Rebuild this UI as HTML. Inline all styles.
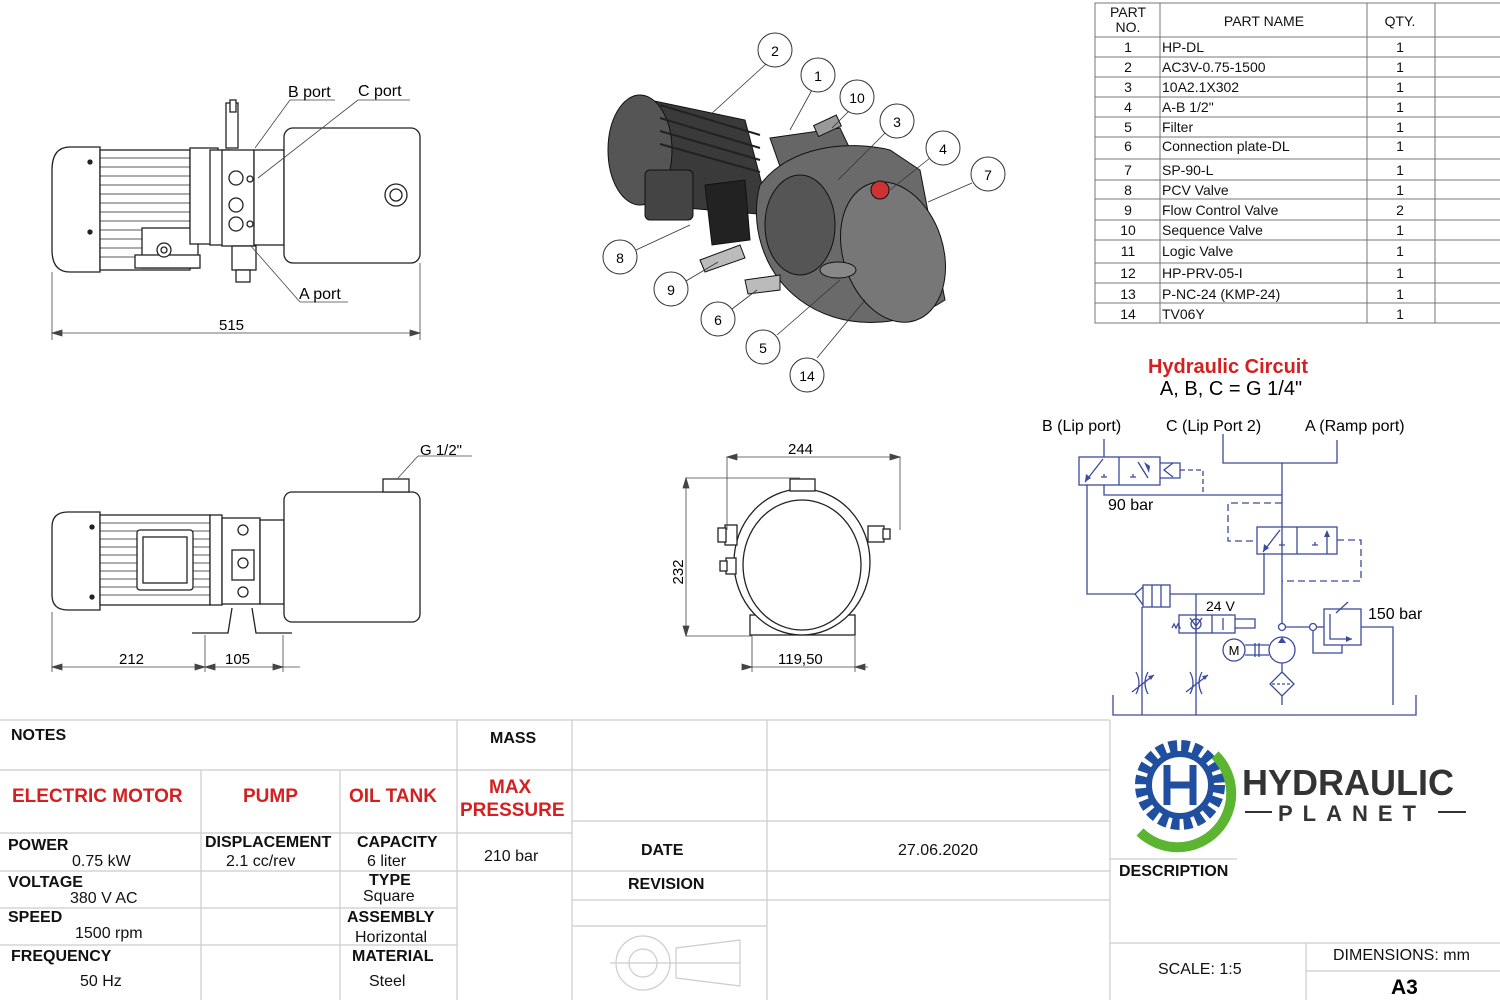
<!DOCTYPE html>
<html><head><meta charset="utf-8"><style>
html,body{margin:0;padding:0;background:#fff}
svg{display:block}
text{font-family:"Liberation Sans",sans-serif}
.g{font-family:"DejaVu Sans",sans-serif;font-size:14px}
.b{font-weight:bold}
</style></head><body>
<svg width="1500" height="1000" viewBox="0 0 1500 1000" xmlns="http://www.w3.org/2000/svg">
<rect width="1500" height="1000" fill="#fff"/>

<!-- ===== Drawing 1 (top-left) ===== -->
<g stroke="#222" stroke-width="1.3" fill="#fff">
 <path d="M70 147 H100 V272 H70 Q52 272 52 250 V170 Q52 147 70 147Z"/>
 <rect x="100" y="150" width="90" height="120"/>
 <g stroke-width="0.8">
  <line x1="100" y1="158" x2="190" y2="158"/><line x1="100" y1="167" x2="190" y2="167"/>
  <line x1="100" y1="176" x2="190" y2="176"/><line x1="100" y1="185" x2="190" y2="185"/>
  <line x1="100" y1="194" x2="190" y2="194"/><line x1="100" y1="203" x2="190" y2="203"/>
  <line x1="100" y1="212" x2="190" y2="212"/><line x1="100" y1="221" x2="190" y2="221"/>
  <line x1="100" y1="230" x2="190" y2="230"/><line x1="100" y1="239" x2="190" y2="239"/>
  <line x1="100" y1="248" x2="190" y2="248"/><line x1="100" y1="257" x2="190" y2="257"/>
 </g>
 <circle cx="90" cy="162" r="2" fill="#222"/><circle cx="90" cy="232" r="2" fill="#222"/>
 <rect x="142" y="228" width="56" height="40"/>
 <rect x="135" y="255" width="65" height="13"/>
 <circle cx="164" cy="250" r="7"/><circle cx="164" cy="250" r="3"/>
 <rect x="190" y="148" width="28" height="96"/>
 <rect x="210" y="150" width="20" height="95"/>
 <rect x="222" y="150" width="32" height="96"/>
 <rect x="226" y="103" width="12" height="45"/>
 <rect x="230" y="100" width="6" height="12"/>
 <circle cx="236" cy="178" r="7"/><circle cx="236" cy="205" r="7"/><circle cx="236" cy="224" r="7"/>
 <circle cx="250" cy="179" r="3"/><circle cx="250" cy="224" r="3"/>
 <rect x="254" y="150" width="30" height="95"/>
 <rect x="232" y="246" width="24" height="24"/>
 <rect x="236" y="270" width="14" height="12"/>
 <rect x="284" y="128" width="136" height="135" rx="9"/>
 <circle cx="396" cy="195" r="11"/><circle cx="396" cy="195" r="6"/>
</g>
<g stroke="#444" stroke-width="0.8" fill="none">
 <line x1="255" y1="148" x2="290" y2="100"/><line x1="290" y1="100" x2="335" y2="100"/>
 <line x1="258" y1="178" x2="358" y2="100"/><line x1="358" y1="100" x2="410" y2="100"/>
 <line x1="250" y1="245" x2="300" y2="302"/><line x1="300" y1="302" x2="348" y2="302"/>
 <line x1="52" y1="272" x2="52" y2="340"/><line x1="420" y1="263" x2="420" y2="340"/>
 <line x1="52" y1="333" x2="420" y2="333"/>
 <path d="M52 333 l10 -3 v6z M420 333 l-10 -3 v6z" fill="#444"/>
</g>
<text x="288" y="97" font-size="16">B port</text>
<text x="358" y="96" font-size="16">C port</text>
<text x="299" y="299" font-size="16">A port</text>
<text x="219" y="330" font-size="15">515</text>

<!-- ===== Drawing 2 (bottom-left) ===== -->
<g stroke="#222" stroke-width="1.3" fill="#fff">
 <path d="M68 512 H100 V610 H68 Q52 610 52 595 V527 Q52 512 68 512Z"/>
 <rect x="100" y="515" width="110" height="90"/>
 <g stroke-width="0.8">
  <line x1="100" y1="523" x2="210" y2="523"/><line x1="100" y1="531" x2="210" y2="531"/>
  <line x1="100" y1="539" x2="210" y2="539"/><line x1="100" y1="547" x2="210" y2="547"/>
  <line x1="100" y1="555" x2="210" y2="555"/><line x1="100" y1="563" x2="210" y2="563"/>
  <line x1="100" y1="571" x2="210" y2="571"/><line x1="100" y1="579" x2="210" y2="579"/>
  <line x1="100" y1="587" x2="210" y2="587"/><line x1="100" y1="595" x2="210" y2="595"/>
 </g>
 <rect x="137" y="530" width="56" height="60" rx="3"/>
 <rect x="143" y="537" width="44" height="46"/>
 <circle cx="92" cy="527" r="2" fill="#222"/><circle cx="92" cy="597" r="2" fill="#222"/>
 <rect x="210" y="515" width="12" height="90"/>
 <rect x="222" y="518" width="38" height="86"/>
 <rect x="232" y="550" width="22" height="30"/><circle cx="243" cy="563" r="5"/>
 <circle cx="243" cy="530" r="5"/><circle cx="243" cy="592" r="5"/>
 <rect x="260" y="520" width="24" height="84"/>
 <rect x="284" y="492" width="136" height="130" rx="8"/>
 <rect x="383" y="479" width="26" height="13"/>
 <path d="M192 633 H228 L232 608 M292 633 H256 L252 608" fill="none"/>
</g>
<g stroke="#444" stroke-width="0.8" fill="none">
 <line x1="398" y1="478" x2="418" y2="456"/><line x1="418" y1="456" x2="472" y2="456"/>
 <line x1="52" y1="612" x2="52" y2="672"/><line x1="205" y1="635" x2="205" y2="672"/><line x1="283" y1="635" x2="283" y2="672"/>
 <line x1="52" y1="667" x2="300" y2="667"/>
 <path d="M52 667 l10 -3 v6z M205 667 l-10 -3 v6z M205 667 l10 -3 v6z M283 667 l-10 -3 v6z" fill="#444"/>
</g>
<text x="420" y="455" font-size="15">G 1/2"</text>
<text x="119" y="664" font-size="15">212</text>
<text x="225" y="664" font-size="15">105</text>

<!-- ===== Drawing 3 (end view) ===== -->
<g stroke="#222" stroke-width="1.3" fill="#fff">
 <rect x="750" y="615" width="105" height="20"/>
 <ellipse cx="802" cy="562" rx="68" ry="73"/>
 <ellipse cx="802" cy="565" rx="59" ry="65"/>
 <rect x="790" y="479" width="25" height="12"/>
 <rect x="725" y="525" width="12" height="20"/><rect x="718" y="528" width="8" height="14"/>
 <rect x="726" y="558" width="10" height="16"/><rect x="720" y="561" width="7" height="10"/>
 <rect x="868" y="526" width="16" height="16"/><rect x="883" y="529" width="7" height="10"/>
</g>
<g stroke="#444" stroke-width="0.8" fill="none">
 <line x1="727" y1="457" x2="727" y2="530"/><line x1="900" y1="457" x2="900" y2="530"/>
 <line x1="727" y1="457" x2="900" y2="457"/>
 <line x1="686" y1="478" x2="800" y2="478"/><line x1="686" y1="636" x2="752" y2="636"/>
 <line x1="686" y1="478" x2="686" y2="636"/>
 <line x1="752" y1="636" x2="752" y2="672"/><line x1="855" y1="636" x2="855" y2="672"/>
 <line x1="742" y1="667" x2="868" y2="667"/>
 <path d="M727 457 l10 -3 v6z M900 457 l-10 -3 v6z M686 478 l-3 10 h6z M686 636 l-3 -10 h6z M752 667 l-10 -3 v6z M855 667 l10 -3 v6z" fill="#444"/>
</g>
<text x="788" y="454" font-size="15">244</text>
<text x="683" y="572" font-size="15" transform="rotate(-90 683 572)" text-anchor="middle">232</text>
<text x="778" y="664" font-size="15">119,50</text>

<!-- ===== 3D view ===== -->
<g stroke="#111" stroke-width="1">
 <path d="M640 98 L745 120 L770 215 L650 205Z" fill="#3a3a3a"/>
 <ellipse cx="640" cy="150" rx="32" ry="55" fill="#555"/>
 <g stroke="#222" stroke-width="2"><line x1="660" y1="105" x2="760" y2="135"/><line x1="660" y1="118" x2="760" y2="148"/><line x1="660" y1="131" x2="760" y2="160"/><line x1="660" y1="144" x2="760" y2="172"/></g>
 <rect x="645" y="170" width="48" height="50" rx="5" fill="#444"/>
 <path d="M705 185 L745 180 L750 240 L712 245Z" fill="#222"/>
 <path d="M770 138 L840 128 L860 170 L790 195Z" fill="#666"/>
 <rect x="815" y="120" width="25" height="12" fill="#999" transform="rotate(-25 827 126)"/>
 <path d="M760 185 C790 145 850 140 890 150 L920 170 L945 300 C900 330 840 330 800 300 C760 270 750 220 760 185Z" fill="#6a6a6a"/>
 <ellipse cx="893" cy="252" rx="50" ry="72" fill="#777" transform="rotate(-18 893 252)"/>
 <ellipse cx="800" cy="225" rx="35" ry="50" fill="#555"/>
 <circle cx="880" cy="190" r="9" fill="#c33"/>
 <ellipse cx="838" cy="270" rx="18" ry="8" fill="#888"/>
 <path d="M700 260 L740 245 L745 258 L705 272Z M745 280 L780 275 L780 290 L748 294Z" fill="#bbb"/>
</g>
<g stroke="#333" stroke-width="0.8" fill="none">
 <line x1="766" y1="64" x2="710" y2="115"/><line x1="812" y1="90" x2="790" y2="130"/>
 <line x1="848" y1="112" x2="832" y2="128"/><line x1="886" y1="132" x2="838" y2="180"/>
 <line x1="930" y1="158" x2="890" y2="190"/><line x1="972" y1="183" x2="928" y2="202"/>
 <line x1="636" y1="250" x2="690" y2="225"/><line x1="686" y1="281" x2="718" y2="262"/>
 <line x1="732" y1="309" x2="757" y2="290"/><line x1="777" y1="335" x2="840" y2="280"/>
 <line x1="817" y1="358" x2="865" y2="300"/>
</g>
<g stroke="#333" stroke-width="1" fill="#fff">
 <circle cx="775" cy="50" r="17"/><circle cx="818" cy="75" r="17"/><circle cx="857" cy="97" r="17"/>
 <circle cx="897" cy="121" r="17"/><circle cx="943" cy="148" r="17"/><circle cx="988" cy="174" r="17"/>
 <circle cx="620" cy="257" r="17"/><circle cx="671" cy="289" r="17"/><circle cx="718" cy="319" r="17"/>
 <circle cx="763" cy="347" r="17"/><circle cx="807" cy="375" r="17"/>
</g>
<g class="g" text-anchor="middle" font-size="15">
 <text x="775" y="56">2</text><text x="818" y="81">1</text><text x="857" y="103">10</text>
 <text x="897" y="127">3</text><text x="943" y="154">4</text><text x="988" y="180">7</text>
 <text x="620" y="263">8</text><text x="671" y="295">9</text><text x="718" y="325">6</text>
 <text x="763" y="353">5</text><text x="807" y="381">14</text>
</g>

<!-- ===== Parts table ===== -->
<g stroke="#777" stroke-width="1" fill="none">
 <rect x="1095" y="3" width="410" height="320"/>
 <line x1="1160" y1="3" x2="1160" y2="323"/><line x1="1367" y1="3" x2="1367" y2="323"/><line x1="1435" y1="3" x2="1435" y2="323"/>
 <line x1="1095" y1="37" x2="1500" y2="37"/><line x1="1095" y1="57" x2="1500" y2="57"/><line x1="1095" y1="77" x2="1500" y2="77"/>
 <line x1="1095" y1="97" x2="1500" y2="97"/><line x1="1095" y1="117" x2="1500" y2="117"/><line x1="1095" y1="137" x2="1500" y2="137"/>
 <line x1="1095" y1="159" x2="1500" y2="159"/><line x1="1095" y1="180" x2="1500" y2="180"/><line x1="1095" y1="199" x2="1500" y2="199"/>
 <line x1="1095" y1="220" x2="1500" y2="220"/><line x1="1095" y1="240" x2="1500" y2="240"/><line x1="1095" y1="263" x2="1500" y2="263"/>
 <line x1="1095" y1="283" x2="1500" y2="283"/><line x1="1095" y1="303" x2="1500" y2="303"/>
</g>
<g class="g" fill="#111">
 <text x="1128" y="17" text-anchor="middle">PART</text><text x="1128" y="32" text-anchor="middle">NO.</text>
 <text x="1264" y="26" text-anchor="middle">PART NAME</text><text x="1400" y="26" text-anchor="middle">QTY.</text>
 <g text-anchor="middle">
 <text x="1128" y="52">1</text><text x="1128" y="72">2</text><text x="1128" y="92">3</text><text x="1128" y="112">4</text>
 <text x="1128" y="132">5</text><text x="1128" y="151">6</text><text x="1128" y="175">7</text><text x="1128" y="195">8</text>
 <text x="1128" y="215">9</text><text x="1128" y="235">10</text><text x="1128" y="256">11</text><text x="1128" y="278">12</text>
 <text x="1128" y="299">13</text><text x="1128" y="319">14</text>
 <text x="1400" y="52">1</text><text x="1400" y="72">1</text><text x="1400" y="92">1</text><text x="1400" y="112">1</text>
 <text x="1400" y="132">1</text><text x="1400" y="151">1</text><text x="1400" y="175">1</text><text x="1400" y="195">1</text>
 <text x="1400" y="215">2</text><text x="1400" y="235">1</text><text x="1400" y="256">1</text><text x="1400" y="278">1</text>
 <text x="1400" y="299">1</text><text x="1400" y="319">1</text>
 </g>
 <text x="1162" y="52">HP-DL</text><text x="1162" y="72">AC3V-0.75-1500</text><text x="1162" y="92">10A2.1X302</text>
 <text x="1162" y="112">A-B 1/2"</text><text x="1162" y="132">Filter</text><text x="1162" y="151">Connection plate-DL</text>
 <text x="1162" y="175">SP-90-L</text><text x="1162" y="195">PCV Valve</text><text x="1162" y="215">Flow Control Valve</text>
 <text x="1162" y="235">Sequence Valve</text><text x="1162" y="256">Logic Valve</text><text x="1162" y="278">HP-PRV-05-I</text>
 <text x="1162" y="299">P-NC-24 (KMP-24)</text><text x="1162" y="319">TV06Y</text>
</g>

<!-- ===== Hydraulic circuit ===== -->
<text x="1228" y="373" font-size="20" font-weight="bold" fill="#d42020" text-anchor="middle">Hydraulic Circuit</text>
<text x="1231" y="395" font-size="20" text-anchor="middle">A, B, C = G 1/4"</text>
<text x="1042" y="431" font-size="16">B (Lip port)</text>
<text x="1166" y="431" font-size="16">C (Lip Port 2)</text>
<text x="1305" y="431" font-size="16">A (Ramp port)</text>
<g stroke="#3b4a9c" stroke-width="1.3" fill="none">
 <line x1="1104" y1="439" x2="1104" y2="457"/>
 <path d="M1223 434 V463 H1337 V440"/>
 <line x1="1282" y1="463" x2="1282" y2="627"/>
 <rect x="1079" y="457" width="81" height="28"/><line x1="1119" y1="457" x2="1119" y2="485"/>
 <path d="M1160 463 H1180 V478 H1160"/><path d="M1173 463 L1164 470 L1173 477"/>
 <path d="M1180 470 H1203 V495" stroke-dasharray="5,3"/>
 <line x1="1085" y1="482" x2="1103" y2="459"/><path d="M1101 477 h6 M1104 477 v-3 M1130 477 h6 M1133 477 v-3"/>
 <line x1="1138" y1="462" x2="1148" y2="478"/>
 <path d="M1104 485 V495 H1282"/>
 <path d="M1087 485 V594 H1135"/>
 <rect x="1143" y="585" width="27" height="22"/><line x1="1152" y1="585" x2="1152" y2="607"/><line x1="1161" y1="585" x2="1161" y2="607"/>
 <path d="M1143 587 L1135 594 L1143 605"/>
 <path d="M1170 594 H1264 V553"/>
 <rect x="1257" y="527" width="80" height="27"/><line x1="1297" y1="527" x2="1297" y2="554"/>
 <line x1="1263" y1="552" x2="1280" y2="530"/><path d="M1279 545 h6 M1282 545 v-3 M1312 545 h6 M1315 545 v-3"/>
 <line x1="1327" y1="554" x2="1327" y2="532"/>
 <path d="M1282 503 H1228 V541 H1257" stroke-dasharray="7,4"/>
 <path d="M1337 540 H1361 V581 H1282" stroke-dasharray="7,4"/>
 <line x1="1142" y1="607" x2="1142" y2="715"/>
 <line x1="1196" y1="594" x2="1196" y2="715"/>
 <rect x="1179" y="615" width="56" height="18"/><line x1="1212" y1="615" x2="1212" y2="633"/><line x1="1196" y1="615" x2="1196" y2="633"/>
 <circle cx="1196" cy="624" r="5"/><path d="M1190 618 L1196 626 L1202 618"/>
 <line x1="1223" y1="618" x2="1223" y2="630"/>
 <path d="M1235 619 H1255 V628 H1235"/>
 <path d="M1172 628 l2 -4 l2 4 l2 -4 l2 4 H1179"/>
 <circle cx="1282" cy="627" r="3.5" fill="#fff"/>
 <line x1="1285" y1="627" x2="1310" y2="627"/>
 <circle cx="1313" cy="627" r="3.5" fill="#fff"/>
 <path d="M1313 631 V653 H1342 V645"/><line x1="1316" y1="627" x2="1324" y2="627"/>
 <rect x="1324" y="609" width="37" height="36"/>
 <path d="M1330 614 V639 H1352"/>
 <line x1="1336" y1="613" x2="1348" y2="602"/>
 <path d="M1361 627 H1393 V705"/>
 <circle cx="1282" cy="650" r="13"/>
 <line x1="1282" y1="663" x2="1282" y2="672"/>
 <circle cx="1234" cy="650" r="11"/>
 <path d="M1245 645 H1269 M1245 655 H1269 M1255 643 V657 M1259 643 V657"/>
 <path d="M1282 672 L1294 684 L1282 696 L1270 684Z"/><line x1="1272" y1="684" x2="1292" y2="684" stroke-dasharray="3,2"/>
 <line x1="1282" y1="696" x2="1282" y2="705"/>
 <path d="M1113 695 V715 H1416 V695"/>
 <path d="M1136 672 Q1142 683 1136 694 M1148 672 Q1142 683 1148 694"/><line x1="1132" y1="692" x2="1154" y2="675"/>
 <path d="M1190 672 Q1196 683 1190 694 M1202 672 Q1196 683 1202 694"/><line x1="1186" y1="692" x2="1208" y2="675"/>
</g>
<g fill="#3b4a9c">
 <path d="M1085 482 l1 -8 l5 4z"/><path d="M1148 478 l-6 -4 l1 -7z" transform="rotate(180 1146 470)"/>
 <path d="M1263 552 l1 -8 l5 4z"/><path d="M1327 530 l-3 7 h6z"/>
 <path d="M1282 637 l-4 6 h8z"/><path d="M1352 639 l-6 -3 v6z"/>
 <path d="M1154 675 l-6 1 l3 4z"/><path d="M1208 675 l-6 1 l3 4z"/>
</g>
<text x="1108" y="510" font-size="16">90 bar</text>
<text x="1206" y="611" font-size="14">24 V</text>
<text x="1368" y="619" font-size="16">150 bar</text>
<text x="1234" y="655" font-size="13" text-anchor="middle">M</text>

<!-- ===== Bottom title block ===== -->
<g stroke="#ccc" stroke-width="1.2" fill="none">
 <line x1="0" y1="720" x2="1110" y2="720"/>
 <line x1="0" y1="770" x2="1110" y2="770"/>
 <line x1="0" y1="833" x2="572" y2="833"/>
 <line x1="572" y1="821" x2="1110" y2="821"/>
 <line x1="0" y1="871" x2="1110" y2="871"/>
 <line x1="0" y1="908" x2="457" y2="908"/>
 <line x1="0" y1="945" x2="457" y2="945"/>
 <line x1="572" y1="900" x2="1110" y2="900"/>
 <line x1="572" y1="926" x2="767" y2="926"/>
 <line x1="201" y1="770" x2="201" y2="1000"/>
 <line x1="340" y1="770" x2="340" y2="1000"/>
 <line x1="457" y1="720" x2="457" y2="1000"/>
 <line x1="572" y1="720" x2="572" y2="1000"/>
 <line x1="767" y1="720" x2="767" y2="1000"/>
 <line x1="1110" y1="720" x2="1110" y2="1000"/>
 <line x1="1110" y1="859" x2="1237" y2="859"/>
 <line x1="1110" y1="943" x2="1500" y2="943"/>
 <line x1="1306" y1="943" x2="1306" y2="1000"/>
 <line x1="1306" y1="971" x2="1500" y2="971"/>
 <circle cx="643" cy="963" r="27"/><circle cx="643" cy="963" r="14"/>
 <path d="M676 948 L740 940 M676 978 L740 986 M740 940 V986 M676 948 V978 M610 963 H740"/>
</g>
<g font-weight="bold" font-size="16" fill="#111">
 <text x="11" y="740">NOTES</text>
 <text x="490" y="743">MASS</text>
 <text x="8" y="850">POWER</text>
 <text x="205" y="847">DISPLACEMENT</text>
 <text x="357" y="847">CAPACITY</text>
 <text x="8" y="887">VOLTAGE</text>
 <text x="369" y="885">TYPE</text>
 <text x="8" y="922">SPEED</text>
 <text x="347" y="922">ASSEMBLY</text>
 <text x="11" y="961">FREQUENCY</text>
 <text x="352" y="961">MATERIAL</text>
 <text x="641" y="855">DATE</text>
 <text x="628" y="889">REVISION</text>
 <text x="1119" y="876">DESCRIPTION</text>
</g>
<g font-weight="bold" font-size="19" fill="#d42020">
 <text x="12" y="802">ELECTRIC MOTOR</text>
 <text x="243" y="802">PUMP</text>
 <text x="349" y="802">OIL TANK</text>
 <text x="489" y="793">MAX</text>
 <text x="460" y="816">PRESSURE</text>
</g>
<g font-size="16" fill="#111">
 <text x="72" y="866">0.75 kW</text>
 <text x="226" y="866">2.1 cc/rev</text>
 <text x="367" y="866">6 liter</text>
 <text x="484" y="861">210 bar</text>
 <text x="70" y="903">380 V AC</text>
 <text x="363" y="901">Square</text>
 <text x="75" y="938">1500 rpm</text>
 <text x="355" y="942">Horizontal</text>
 <text x="80" y="986">50 Hz</text>
 <text x="369" y="986">Steel</text>
 <text x="898" y="855">27.06.2020</text>
 <text x="1158" y="974">SCALE: 1:5</text>
 <text x="1333" y="960">DIMENSIONS: mm</text>
</g>
<text x="1391" y="994" font-size="21" font-weight="bold">A3</text>

<!-- Logo -->
<g>
 <circle cx="1180" cy="785" r="38" fill="none" stroke="#1f4f9e" stroke-width="14" stroke-dasharray="8,4"/>
 <circle cx="1180" cy="785" r="31" fill="none" stroke="#1f4f9e" stroke-width="6"/>
 <path d="M1215 755 A45 45 0 0 1 1140 832" fill="none" stroke="#5cb531" stroke-width="10"/>
 <path d="M1167 765 V805 M1193 765 V805 M1167 785 H1193" stroke="#1f4f9e" stroke-width="7" fill="none"/>
 <text x="1242" y="795" font-size="36" font-weight="bold" fill="#333">HYDRAULIC</text>
 <line x1="1245" y1="812" x2="1272" y2="812" stroke="#333" stroke-width="2"/>
 <line x1="1438" y1="812" x2="1466" y2="812" stroke="#333" stroke-width="2"/>
 <text x="1278" y="821" font-size="22" font-weight="bold" fill="#333" letter-spacing="10">PLANET</text>
</g>
</svg>
</body></html>
